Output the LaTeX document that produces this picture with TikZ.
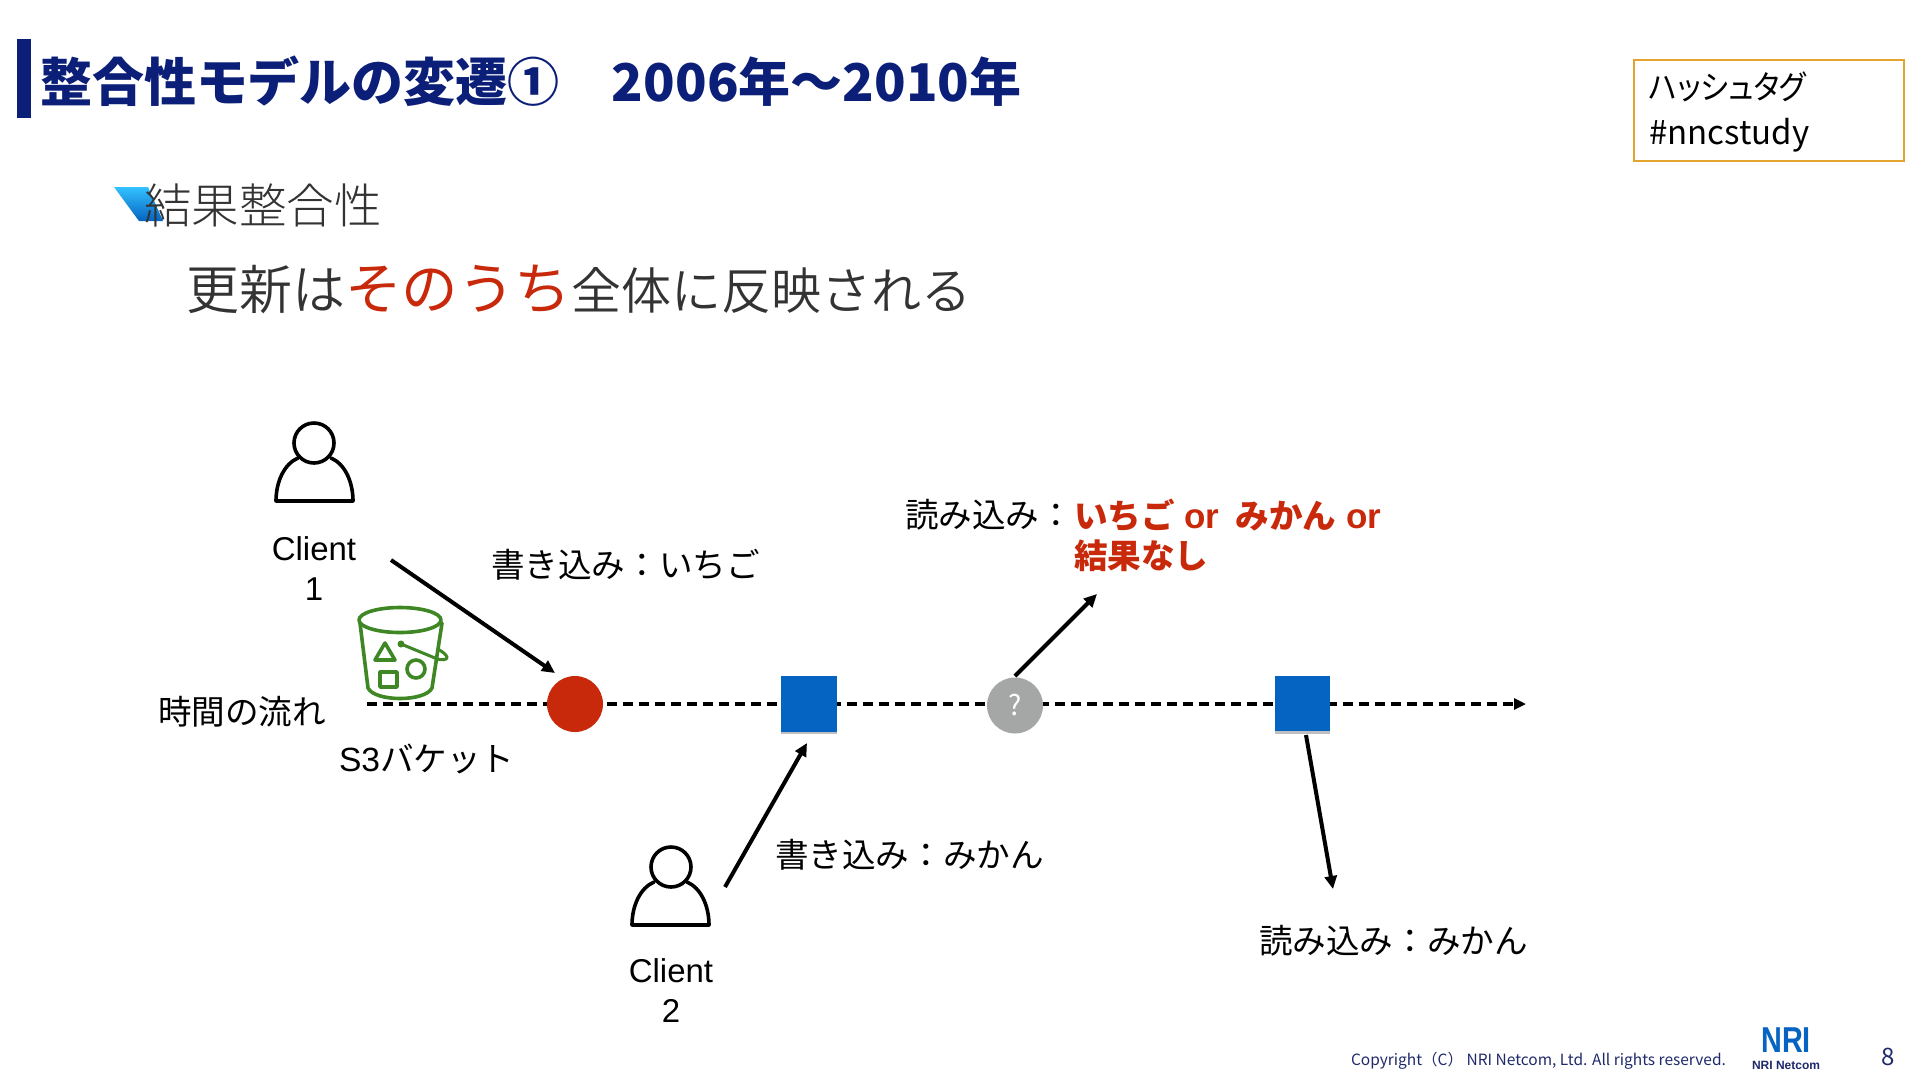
\documentclass[tikz,border=0pt]{standalone}
\usepackage{fontspec}
\usetikzlibrary{arrows.meta}
\setmainfont{Liberation Sans}
\newfontfamily\jp{Noto Sans CJK JP}
\newfontfamily\jpl{Noto Sans CJK JP Light}
\newfontfamily\jpd{Noto Sans CJK JP DemiLight}
\newfontfamily\jpp[RawFeature=+palt]{Noto Sans CJK JP}
\newfontfamily\ar{Liberation Sans}
\newcommand{\fs}[1]{\fontsize{#1}{#1}\selectfont}
\definecolor{navy}{HTML}{0B1F78}
\definecolor{redc}{HTML}{C8290A}
\definecolor{bluec}{HTML}{0563C1}
\definecolor{greyc}{HTML}{A5A7A7}
\definecolor{darkt}{HTML}{333333}
\definecolor{oran}{HTML}{E2A42E}
\definecolor{buck}{HTML}{3F8624}
\definecolor{foot}{HTML}{1F2A6B}
\tikzset{
  txt/.style={inner sep=0pt,outer sep=0pt,anchor=west,font=\jp\fs{33.6}},
  ctr/.style={inner sep=0pt,outer sep=0pt,anchor=center,font=\ar\fs{33}},
  arrowline/.style={line width=4pt,-{Triangle[length=13pt,width=12pt]}},
  personline/.style={line width=3.6pt,line join=round,line cap=round},
  bucketline/.style={line width=3.6pt,draw=buck,line join=round,line cap=round},
}
\begin{document}
\begin{tikzpicture}[x=1pt,y=-1pt]
\useasboundingbox (0,0) rectangle (1920,1080);
\fill[white] (0,0) rectangle (1920,1080);
% title
\fill[navy] (17,39) rectangle (31,118);
\node[txt,font=\jp\bfseries\fs{52},text=navy] (title) at (40,81) {整合性モデルの変遷①　2006年～2010年};
% hash box
\node[draw=oran,line width=2pt,minimum width=270pt,minimum height=101pt,inner sep=0pt,anchor=north west] (hashbox) at (1633,59) {};
\node[txt,font=\jpp\fs{33}] (hash1) at (1649,87) {\scalebox{.9}[1]{ハッシュタグ}};
\node[txt,font=\jp\fs{33}] (hash2) at (1649,135) {\#nncstudy};
% bullet + heading
\shade[top color=cyan!70!blue!80,bottom color=bluec] (114,187) -- (148,187) -- (163,221) -- (139,221) -- cycle;
\node[txt,font=\jpl\fs{47.5},text=darkt] (head) at (144,205) {結果整合性};
\node[txt,font=\jpd\fs{53},text=darkt] (sub) at (186,289) {更新は{\jp\fs{56.5}\textcolor{redc}{そのうち}}{\fs{50}全体に反映される}};
% timeline
\coordinate (tstart) at (367,704);
\coordinate (tend) at (1526,704);
\draw[line width=4pt,dash pattern=on 10pt off 6pt,-{Triangle[length=12pt,width=11pt]}] (tstart) -- (tend);
% bucket
\begin{scope}[bucketline]
  \draw (400,620) ellipse [x radius=41,y radius=12.5];
  \draw (360,623) -- (368,688) .. controls (375,702) and (425,702) .. (432,688) -- (442,623);
  \draw (385,643) -- (375,660) -- (395,660) -- cycle;
  \draw (380,672) rectangle (397,687);
  \draw (416,669) circle [radius=9];
  \fill[buck] (401,644) circle [radius=3.5];
  \draw[line width=3pt] (401,644) -- (435,658) .. controls (441,661) and (448,660) .. (447,657) .. controls (446,654) and (441,651) .. (438,649);
\end{scope}
% persons
\begin{scope}[personline]
  \draw (314,443) circle [radius=20];
  \draw (298,458) .. controls (284,464) and (276,482) .. (276,501) -- (353,501) .. controls (353,482) and (345,464) .. (331,458);
\end{scope}
\begin{scope}[personline,shift={(356,424)}]
  \draw (315,443) circle [radius=20];
  \draw (298,458) .. controls (284,464) and (276,482) .. (276,501) -- (353,501) .. controls (353,482) and (345,464) .. (331,458);
\end{scope}
% timeline nodes
\fill[black,opacity=.25] (781,678) rectangle (837,734);
\fill[black,opacity=.25] (1275,679) rectangle (1330,734);
\node[circle,fill=redc,minimum size=56pt,inner sep=0pt] (red) at (575,704) {};
\node[fill=bluec,minimum size=56pt,inner sep=0pt] (sqa) at (809,703.5) {};
\node[circle,fill=greyc,minimum size=56pt,inner sep=0pt,text=white,font=\jp\fs{28}] (grey) at (1015,705.5) {?};
\node[fill=bluec,minimum size=55.5pt,inner sep=0pt] (sqb) at (1302.5,703.5) {};
% arrow ends
\coordinate (a1s) at (391,560);
\coordinate (a1e) at (555,673);
\coordinate (a2s) at (725,887);
\coordinate (a2e) at (807,743);
\coordinate (a3s) at (1015,676);
\coordinate (a3e) at (1097,594);
\coordinate (a4s) at (1306,735);
\coordinate (a4e) at (1333,889);
\draw[arrowline] (a1s) -- (a1e);
\draw[arrowline] (a2s) -- (a2e);
\draw[arrowline] (a3s) -- (a3e);
\draw[arrowline] (a4s) -- (a4e);
% labels
\node[ctr] (c1a) at (314,549) {Client};
\node[ctr] (c1b) at (314,589) {1};
\node[ctr] (c2a) at (671,971) {Client};
\node[ctr] (c2b) at (671,1011) {2};
\node[txt] (w1) at (491,565) {書き込み：いちご};
\node[txt] (w2) at (775,855) {書き込み：みかん};
\node[txt] (time) at (158,712) {時間の流れ};
\node[txt] (s3) at (339,759) {{\ar S3}バケット};
\node[txt] (r1) at (905,515) {読み込み：};
\node[txt,font=\jp\bfseries\fs{33.6},text=redc] (r1b) at (1074,515) {いちご{\ar\bfseries\fs{35}\ or\hspace{16pt}}みかん{\ar\bfseries\fs{35}\ or}};
\node[txt,font=\jp\bfseries\fs{33.6},text=redc] (r1c) at (1074,556) {結果なし};
\node[txt] (r2) at (1259,941) {読み込み：みかん};
% footer
\node[txt,font=\jp\fs{15.5},text=foot] (copy) at (1351,1061) {Copyright（C） NRI Netcom, Ltd. All rights reserved.};
\node[inner sep=0pt,text=bluec,font=\ar\bfseries\fs{36}] (nri) at (1786,1040) {\scalebox{.8}[1]{NRI}};
\node[inner sep=0pt,text=foot,font=\ar\bfseries\fs{12}] (nric) at (1786,1065) {NRI Netcom};
\node[inner sep=0pt,text=foot,font=\jp\fs{24}] (pg) at (1888,1057) {8};
\end{tikzpicture}
\end{document}
